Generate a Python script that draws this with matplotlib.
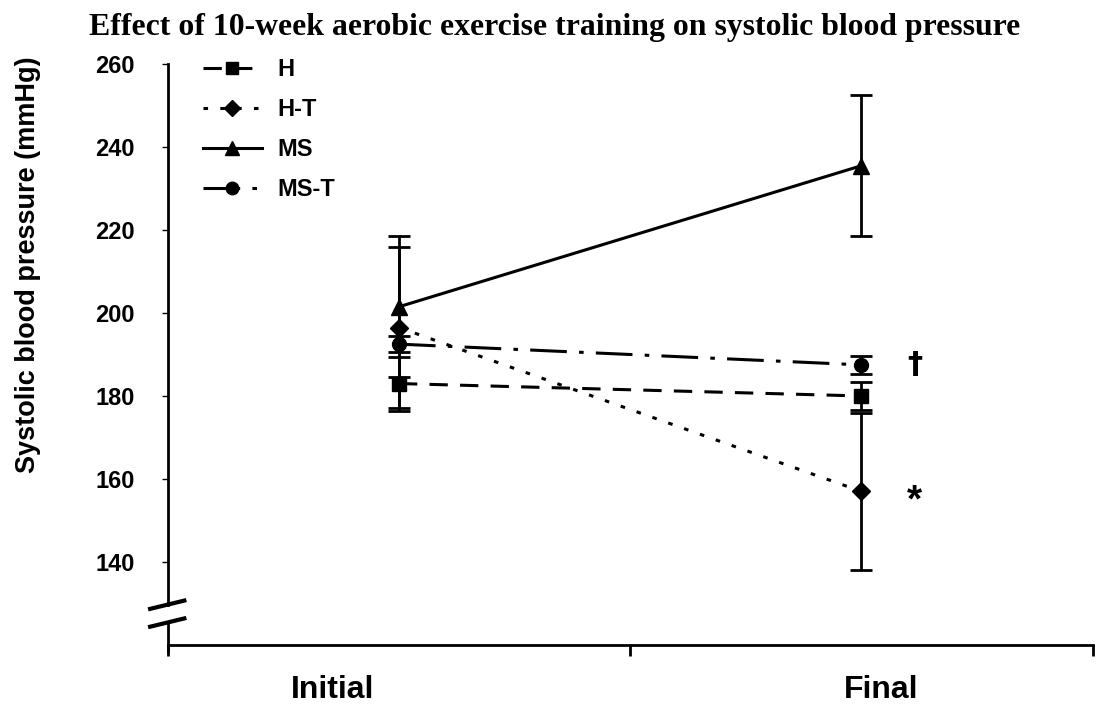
import matplotlib
matplotlib.use("Agg")
import matplotlib.pyplot as plt
from matplotlib.lines import Line2D

# datos
fases = ["Initial", "Final"]
grupos = ["H", "H-T", "MS", "MS-T"]
h_media = [183, 180]
h_err = [6.5, 3.3]
ht_media = [196.5, 157]
ht_err = [19.5, 19]
ms_media = [201.5, 235.5]
ms_err = [17, 17]
mst_media = [192.5, 187.5]
mst_err = [2, 2.2]

pos = [0.5, 1.5]

fig = plt.figure(figsize=(10.96, 7.09), dpi=100)
ax = fig.add_axes([0.153, 0.0903, 0.844, 0.8194])

estilo = dict(color="black", lw=2.2, ecolor="black", elinewidth=2,
              capsize=8, capthick=2)

series = [
    (h_media, h_err, "s", dict(dashes=(6, 4)), 10),
    (ht_media, ht_err, "D", dict(dashes=(1.5, 4)), 9),
    (ms_media, ms_err, "^", dict(ls="-"), 11),
    (mst_media, mst_err, "o", dict(dashes=(12, 4, 1.5, 4)), 10),
]

handles = []
for (med, err, mk, ls, ms), nombre in zip(series, grupos):
    ax.errorbar(pos, med, yerr=err, marker=mk, markersize=ms, **ls, **estilo)
    handles.append(Line2D([], [], color="black", lw=2.2, marker=mk, markersize=ms - 1,
                          label=nombre, **ls))

# simbolos de significancia
ax.text(pos[1] + 0.115, mst_media[1], "†", fontsize=22, fontweight="bold",
        va="center", ha="center", family="DejaVu Sans")
ax.text(pos[1] + 0.115, ht_media[1] - 2.5, "*", fontsize=28, fontweight="bold",
        va="center", ha="center", family="Liberation Sans")

ax.set_xlim(0, 2)
ax.set_ylim(120, 260)
ax.set_yticks([140, 160, 180, 200, 220, 240, 260])
ax.set_xticks([0, 1, 2])
ax.set_xticklabels([])
ax.tick_params(axis="x", direction="out", length=8, width=2)
ax.tick_params(axis="y", direction="out", length=4.5, width=1, pad=19)
for lab in ax.get_yticklabels():
    lab.set_fontsize(17)
    lab.set_fontweight("bold")
    lab.set_family("Liberation Sans")

for s in ["top", "right", "left"]:
    ax.spines[s].set_visible(False)
ax.spines["bottom"].set_linewidth(2)

# eje y con corte
tr = ax.get_yaxis_transform()
for y0, y1 in [(118.5, 125.4), (129.7, 260)]:
    ax.add_line(Line2D([0, 0], [y0, y1], transform=tr, color="black", lw=2, clip_on=False))
for yc in [125.4, 129.7]:
    ax.add_line(Line2D([-0.019, 0.018], [yc - 1.0, yc + 1.0], transform=tr,
                       color="black", lw=3, clip_on=False))

# etiquetas de categoria
ax.text(0.178, -0.0775, fases[0], transform=ax.transAxes, ha="center", va="center",
        fontsize=23, fontweight="bold", family="Liberation Sans")
ax.text(0.771, -0.0775, fases[1], transform=ax.transAxes, ha="center", va="center",
        fontsize=23, fontweight="bold", family="Liberation Sans")

fig.text(0.026, 0.626, "Systolic blood pressure (mmHg)", rotation=90, ha="center",
         va="center", fontsize=19.5, fontweight="bold", family="Liberation Sans")

fig.suptitle("Effect of 10-week aerobic exercise training on systolic blood pressure",
             x=0.506, y=0.981, va="top", fontsize=22.9, fontweight="bold",
             family="Liberation Serif")

ax.legend(handles=handles, loc="upper left", bbox_to_anchor=(0.038, 1.01), frameon=False,
          handlelength=2.5, handletextpad=0.64, labelspacing=0.72, borderaxespad=0,
          borderpad=0, prop={"family": "Liberation Sans", "weight": "bold", "size": 17})

fig.savefig("out.png", dpi=100)
